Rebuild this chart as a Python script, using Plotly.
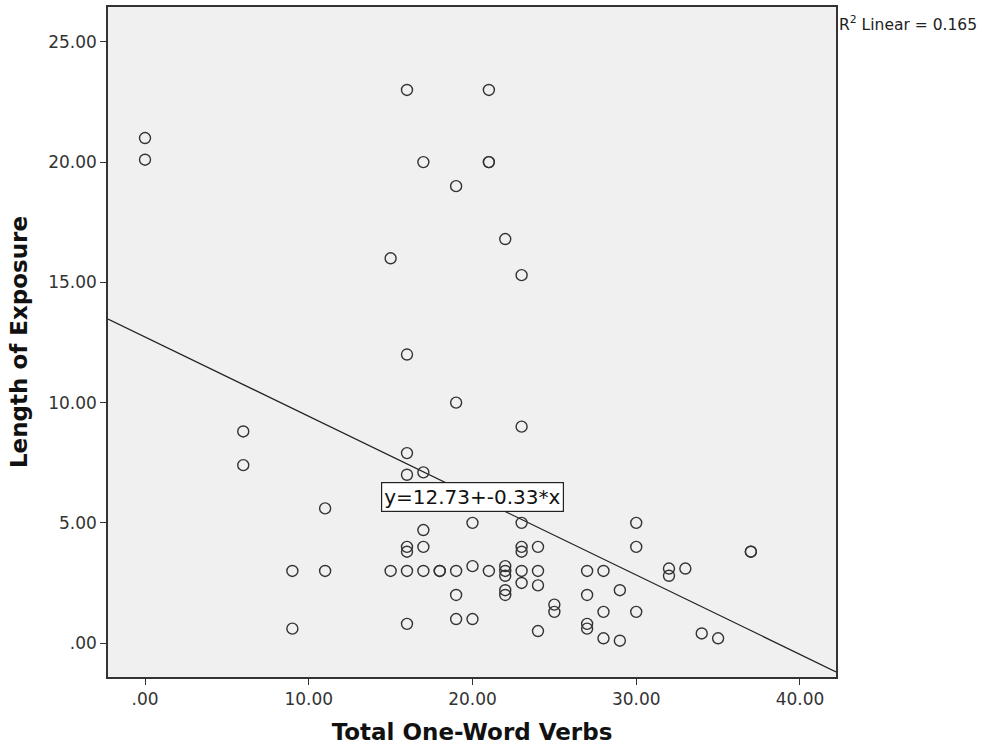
import plotly.graph_objects as go

# Data: Total One-Word Verbs (x) vs Length of Exposure (y)
verbs = [0, 0, 6, 6, 9, 9, 11, 11, 15, 15,
         16, 16, 16, 16, 16, 16, 16, 16,
         17, 17, 17, 17, 17,
         18, 18,
         19, 19, 19, 19, 19,
         20, 20, 20,
         21, 21, 21, 21,
         22, 22, 22, 22, 22, 22,
         23, 23, 23, 23, 23, 23, 23,
         24, 24, 24, 24,
         25, 25,
         27, 27, 27, 27,
         28, 28, 28,
         29, 29,
         30, 30, 30,
         32, 32, 33, 34, 35, 37, 37]
exposure = [21.0, 20.1, 8.8, 7.4, 3.0, 0.6, 5.6, 3.0, 16.0, 3.0,
            23.0, 12.0, 7.9, 7.0, 4.0, 3.8, 3.0, 0.8,
            20.0, 7.1, 4.7, 4.0, 3.0,
            3.0, 3.0,
            19.0, 10.0, 3.0, 2.0, 1.0,
            5.0, 3.2, 1.0,
            23.0, 20.0, 20.0, 3.0,
            16.8, 3.2, 3.0, 2.8, 2.2, 2.0,
            15.3, 9.0, 5.0, 4.0, 3.8, 3.0, 2.5,
            4.0, 3.0, 2.4, 0.5,
            1.6, 1.3,
            3.0, 2.0, 0.8, 0.6,
            3.0, 1.3, 0.2,
            2.2, 0.1,
            5.0, 4.0, 1.3,
            3.1, 2.8, 3.1, 0.4, 0.2, 3.8, 3.8]

fit_intercept = 12.73
fit_slope = -0.33
r_squared = 0.165

x_tickvals = [0, 10, 20, 30, 40]
x_ticktext = [".00", "10.00", "20.00", "30.00", "40.00"]
y_tickvals = [0, 5, 10, 15, 20, 25]
y_ticktext = [".00", "5.00", "10.00", "15.00", "20.00", "25.00"]

x_range = [-2.26, 42.2]
y_range = [-1.41, 26.45]

fit_x = [x_range[0], x_range[1]]
fit_y = [fit_intercept + fit_slope * v for v in fit_x]

fig = go.Figure()
fig.add_trace(go.Scatter(
    x=fit_x, y=fit_y, mode="lines",
    line=dict(color="#222222", width=1.2),
    hoverinfo="skip", showlegend=False,
))
fig.add_trace(go.Scatter(
    x=verbs, y=exposure, mode="markers",
    marker=dict(symbol="circle-open", size=11, color="#333333",
                line=dict(width=1.4, color="#333333")),
    showlegend=False,
))

fig.add_annotation(
    x=19.97, y=6.08, xref="x", yref="y",
    text=f"y={fit_intercept:.2f}+{fit_slope:.2f}*x",
    showarrow=False, bgcolor="white", bordercolor="#222222", borderwidth=1.2,
    borderpad=2, font=dict(family="DejaVu Sans", size=20, color="#111111"),
)
fig.add_annotation(
    x=1.002, y=0.975, xref="paper", yref="paper", xanchor="left", yanchor="middle",
    text=f"R<sup>2</sup> Linear = {r_squared:.3f}",
    showarrow=False, font=dict(family="DejaVu Sans", size=15.5, color="#222222"),
)

fig.update_layout(
    width=994, height=746,
    margin=dict(l=108, r=158, t=5, b=68),
    paper_bgcolor="white", plot_bgcolor="#F0F0F0",
    xaxis=dict(
        range=x_range, tickvals=x_tickvals, ticktext=x_ticktext,
        showgrid=False, zeroline=False, showline=True, mirror=True,
        linecolor="#333333", linewidth=1.5,
        ticks="outside", ticklen=6, tickcolor="#333333", tickwidth=1.3,
        tickfont=dict(family="DejaVu Sans", size=17, color="#333333"),
        title=dict(text="<b>Total One-Word Verbs</b>", standoff=16,
                   font=dict(family="DejaVu Sans", size=23, color="#111111")),
    ),
    yaxis=dict(
        range=y_range, tickvals=y_tickvals, ticktext=y_ticktext,
        showgrid=False, zeroline=False, showline=True, mirror=True,
        linecolor="#333333", linewidth=1.5,
        ticks="outside", ticklen=6, tickcolor="#333333", tickwidth=1.3,
        tickfont=dict(family="DejaVu Sans", size=17, color="#333333"),
        title=dict(text="<b>Length of Exposure</b>", standoff=14,
                   font=dict(family="DejaVu Sans", size=23, color="#111111")),
    ),
)

fig.write_html("out.html", config={"displayModeBar": False},
               post_script="document.body.style.margin='0px';")
